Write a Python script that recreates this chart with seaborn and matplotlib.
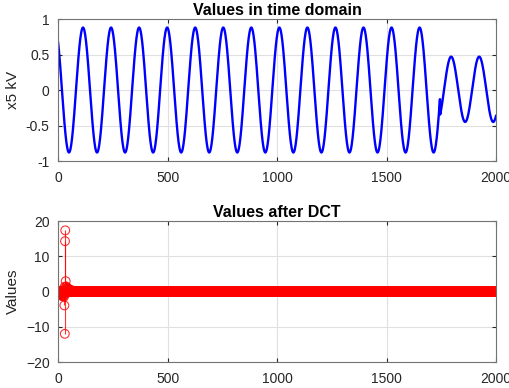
import numpy as np
import pandas as pd
import matplotlib
matplotlib.use("Agg")
import matplotlib.pyplot as plt
import seaborn as sns

# ---- data ----
n_samples = 2000
period = 128                 # samples per cycle (both segments)
seg1_amplitude = 0.88
seg1_peak_at = 114           # sample index of a crest in segment 1
seg1_end = 1744              # sample where the waveform switches
seg2_amplitude = 0.46
seg2_offset = 0.01
seg2_peak_at = 1794          # sample index of a crest in segment 2

x_ticks = [0, 500, 1000, 1500, 2000]
top_yticks = [-1, -0.5, 0, 0.5, 1]
top_yticklabels = ["-1", "-0.5", "0", "0.5", "1"]
bottom_yticks = [-20, -10, 0, 10, 20]

titles = ["Values in time domain", "Values after DCT"]
ylabels = ["x5 kV", "Values"]

# ---- build the signal and its DCT ----
t = np.arange(n_samples)
signal = np.where(
    t < seg1_end,
    seg1_amplitude * np.cos(2 * np.pi * (t - seg1_peak_at) / period),
    seg2_offset + seg2_amplitude * np.cos(2 * np.pi * (t - seg2_peak_at) / period),
)

N = n_samples
k = np.arange(N)[:, None]
nn = np.arange(N)[None, :]
basis = np.cos(np.pi * (2 * nn + 1) * k / (2 * N))
w = np.full(N, np.sqrt(2.0 / N))
w[0] = np.sqrt(1.0 / N)
dct_vals = w * (basis @ signal)

df_top = pd.DataFrame({"x": t, "y": signal})
df_bot = pd.DataFrame({"x": np.arange(1, N + 1), "y": dct_vals})

# ---- styling ----
sns.set_theme(style="white")
plt.rcParams["font.family"] = ["Liberation Sans", "DejaVu Sans"]
plt.rcParams["axes.edgecolor"] = "0.45"
plt.rcParams["xtick.color"] = "0.15"
plt.rcParams["ytick.color"] = "0.15"

fig = plt.figure(figsize=(5.09, 3.88), dpi=100)
ax1 = fig.add_axes([0.114, 0.585, 0.861, 0.366])
ax2 = fig.add_axes([0.114, 0.067, 0.861, 0.363])

sns.lineplot(data=df_top, x="x", y="y", ax=ax1, color=(0, 0, 1), linewidth=1.7)

ax2.vlines(df_bot["x"], 0, df_bot["y"], color=(1, 0, 0), linewidth=0.8, alpha=0.8)
sns.scatterplot(data=df_bot, x="x", y="y", ax=ax2, marker="o", s=40,
                facecolor="none", edgecolor=(1, 0, 0), linewidth=0.8, alpha=0.8,
                legend=False)

for ax, title, ylab in zip([ax1, ax2], titles, ylabels):
    ax.set_xlim(0, 2000)
    ax.set_xticks(x_ticks)
    ax.set_title(title, fontsize=11.5, fontweight="bold", color="black", pad=3)
    ax.set_ylabel(ylab, fontsize=11, color="0.15", labelpad=4)
    ax.set_xlabel("")
    ax.grid(True, color="0.88", linewidth=0.8)
    ax.set_axisbelow(True)
    ax.tick_params(direction="in", length=3, width=0.8, top=True, right=True,
                   bottom=True, left=True, labelsize=10, colors="0.15")
    ax.tick_params(axis="x", pad=7)
    ax.tick_params(axis="y", pad=6)
    for s in ax.spines.values():
        s.set_linewidth(0.8)
        s.set_color("0.45")

ax1.set_ylim(-1, 1)
ax1.set_yticks(top_yticks)
ax1.set_yticklabels(top_yticklabels)
ax2.set_ylim(-20, 20)
ax2.set_yticks(bottom_yticks)

fig.savefig("out.png", dpi=100)
